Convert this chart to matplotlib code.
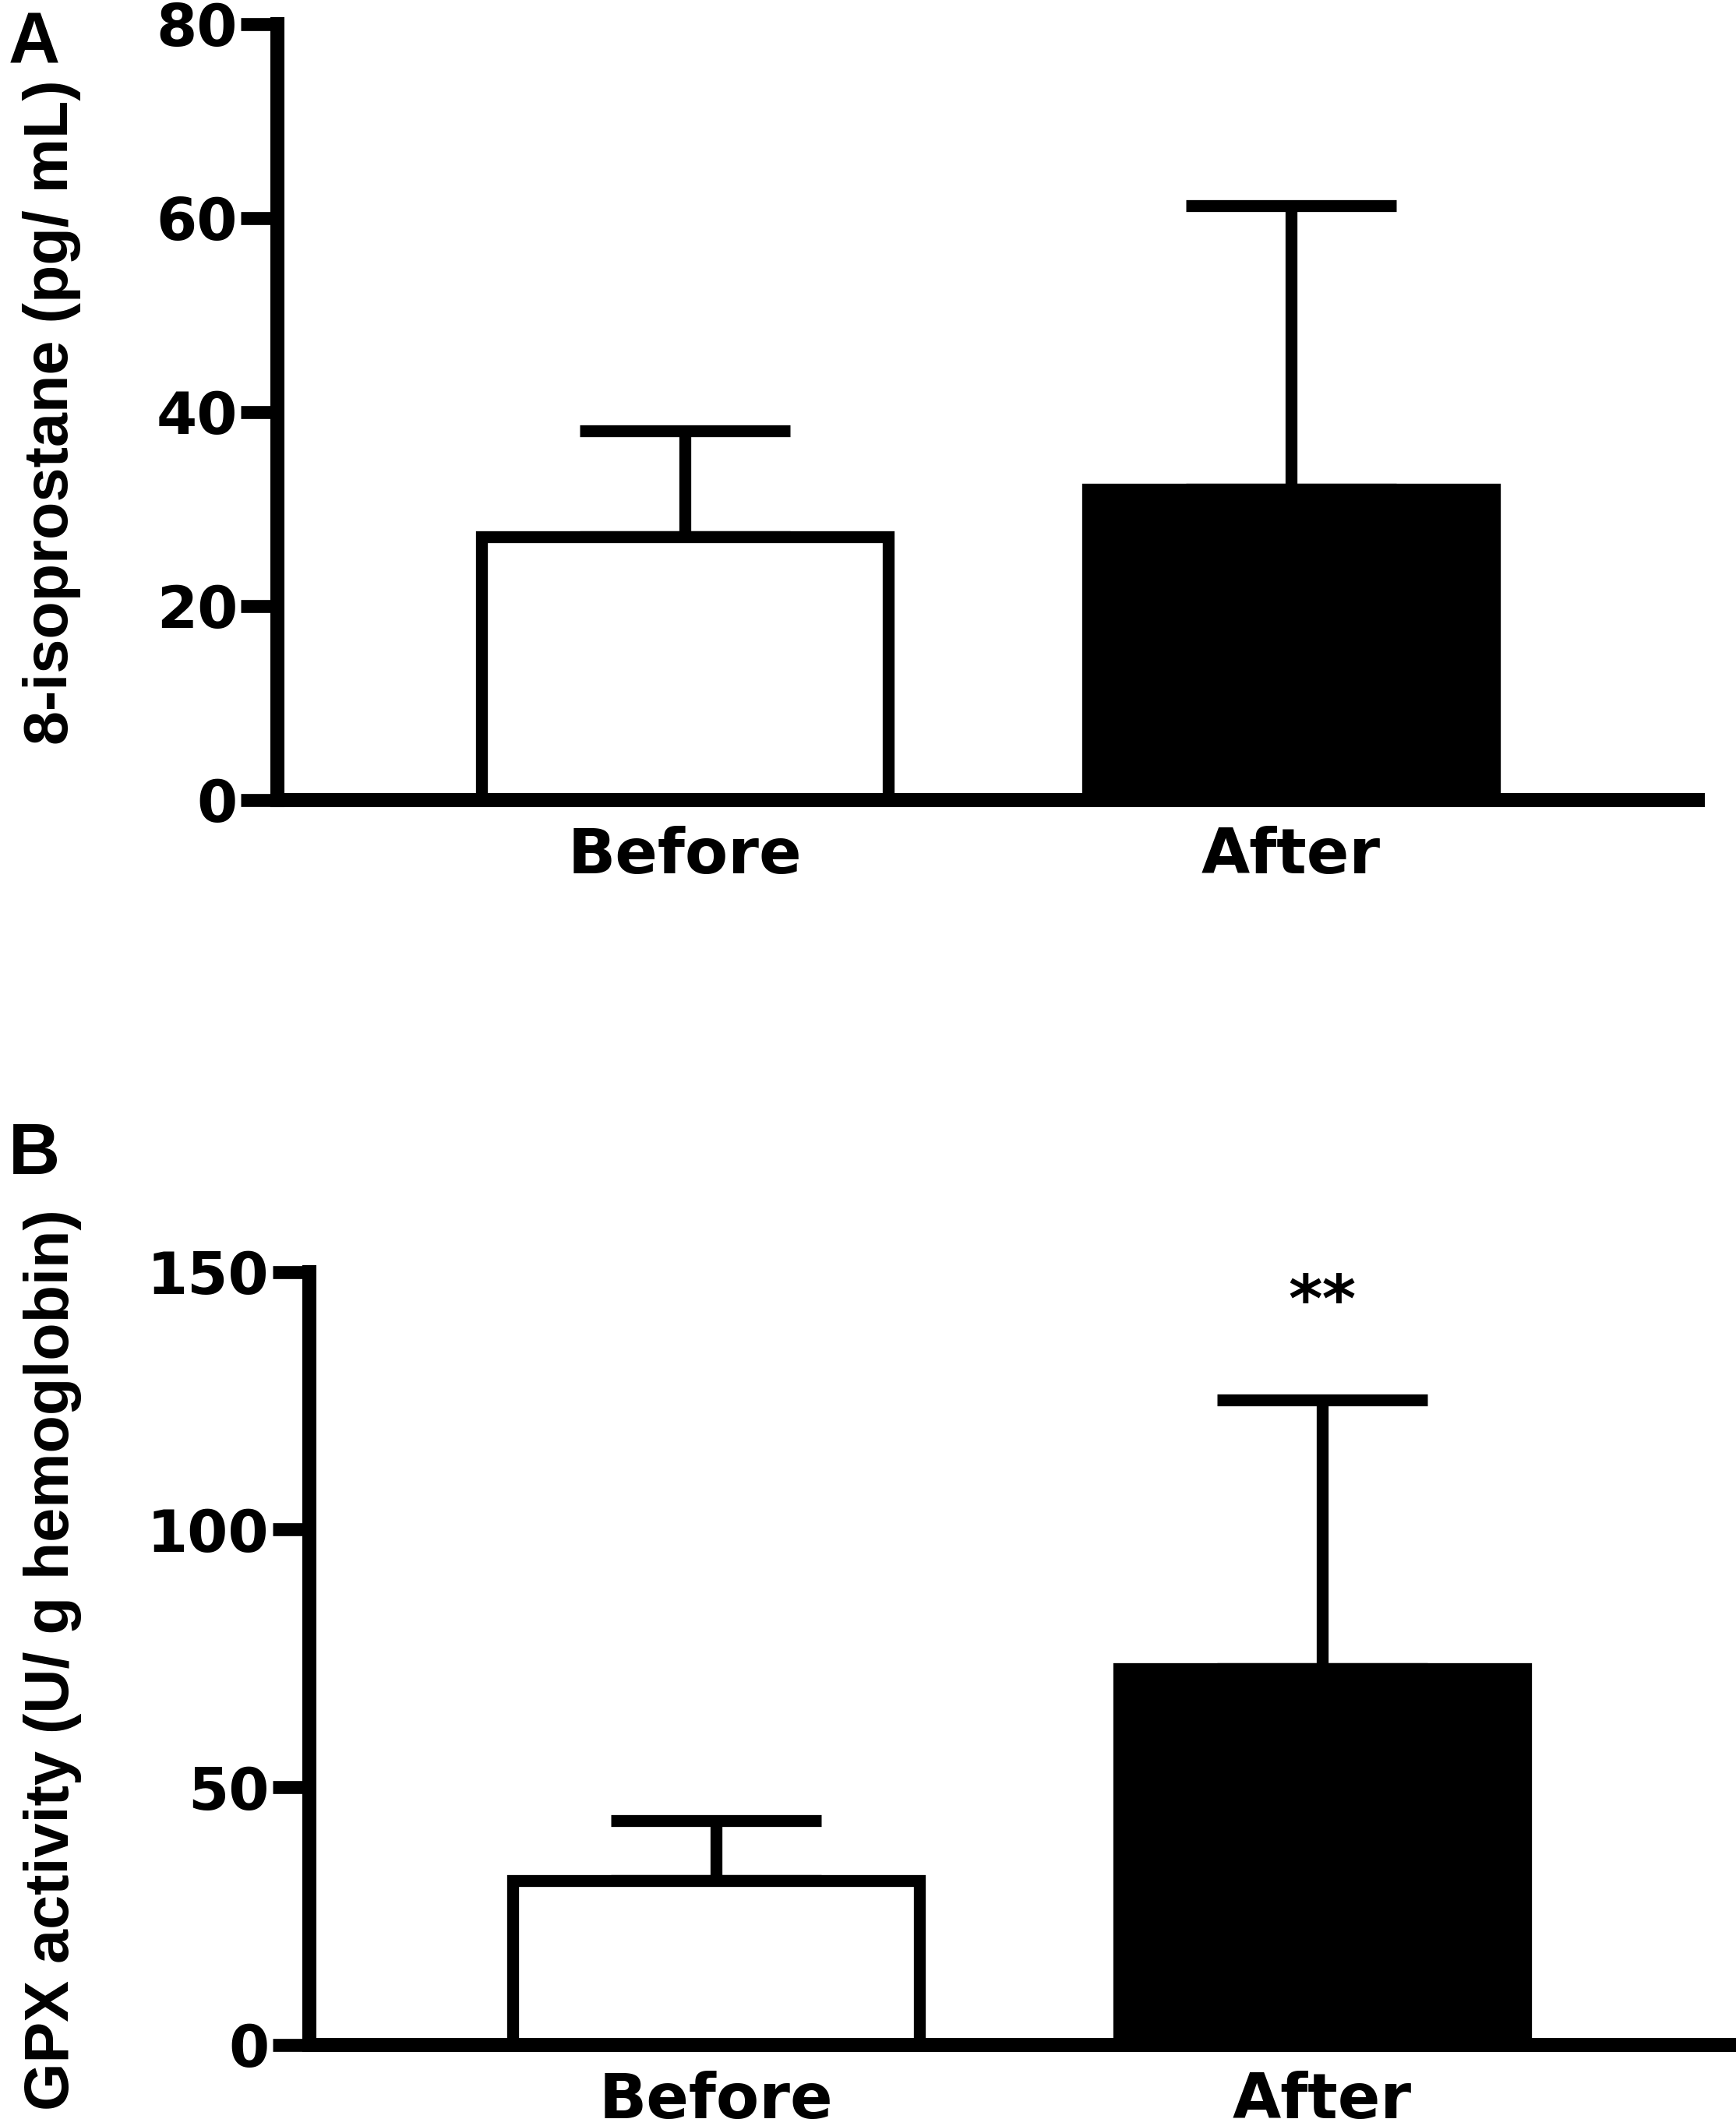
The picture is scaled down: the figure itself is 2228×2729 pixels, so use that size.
import matplotlib.pyplot as plt

groups = ['Before', 'After']

iso_mean = [27.1, 32.0]
iso_sem = [11.0, 29.3]

gpx_mean = [31.9, 73.0]
gpx_sem = [11.6, 52.1]

bar_colors = ['white', 'black']

plt.rcParams['font.family'] = ['DejaVu Sans']
plt.rcParams['font.weight'] = 'bold'

fig = plt.figure(figsize=(22.28, 27.29), dpi=100)

ax1 = fig.add_axes([0.160, 0.6237, 0.818, 0.365])
ax2 = fig.add_axes([0.178, 0.0382, 0.818, 0.3635])


def draw_panel(ax, means, sems, ymax, yticks, ylabel):
    x = range(len(groups))
    ax.bar(x, means, width=0.671, color=bar_colors, edgecolor='black',
           linewidth=11, zorder=2)
    ax.errorbar(x, means, yerr=[[0] * len(sems), sems], fmt='none',
                ecolor='black', elinewidth=11, capsize=97, capthick=11, zorder=1)
    ax.set_xlim(-0.671, 1.671)
    ax.set_ylim(0, ymax)
    ax.set_yticks(yticks)
    ax.set_xticks(list(x))
    ax.set_xticklabels(groups, fontsize=58, fontweight='bold')
    ax.tick_params(axis='y', labelsize=54, width=12, length=34, direction='out', pad=3)
    ax.tick_params(axis='x', length=0, pad=24)
    for lab in ax.get_yticklabels():
        lab.set_fontweight('bold')
    ax.spines['top'].set_visible(False)
    ax.spines['right'].set_visible(False)
    ax.spines['left'].set_linewidth(13)
    ax.spines['bottom'].set_linewidth(13)
    ax.set_ylabel(ylabel, fontsize=57, fontweight='bold',
                  family=['Liberation Sans', 'DejaVu Sans'])


draw_panel(ax1, iso_mean, iso_sem, 80, [0, 20, 40, 60, 80], '8-isoprostane (pg/ mL)')
ax1.yaxis.set_label_coords(-0.1385, 0.5)

draw_panel(ax2, gpx_mean, gpx_sem, 150, [0, 50, 100, 150], 'GPX activity (U/ g hemoglobin)')
ax2.yaxis.set_label_coords(-0.160, 0.498)
ax2.text(1, 144, '**', ha='center', va='center', fontsize=60, fontweight='bold')

fig.text(0.005, 0.995, 'A', fontsize=66, fontweight='bold', va='top', ha='left',
         family=['Liberation Sans', 'DejaVu Sans'])
fig.text(0.005, 0.4725, 'B', fontsize=66, fontweight='bold', va='top', ha='left',
         family=['Liberation Sans', 'DejaVu Sans'])

fig.savefig('out.png', dpi=100)
